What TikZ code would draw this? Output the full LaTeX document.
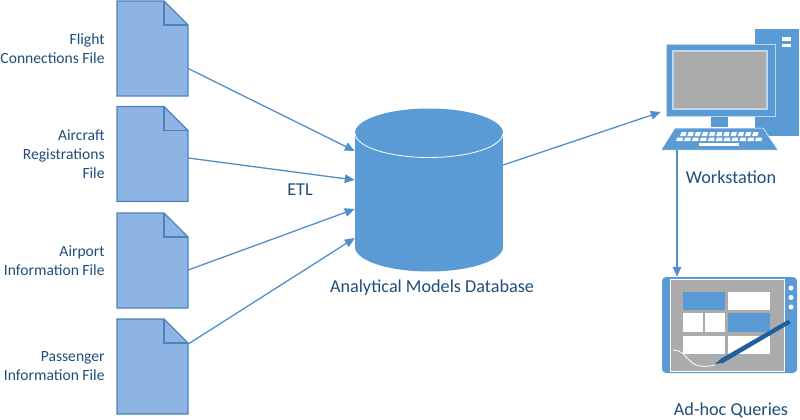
\documentclass[tikz,border=0pt]{standalone}
\usepackage{fontspec}
\usepackage{xcolor}
\usepackage{tikz}
\setmainfont{Carlito}
\usetikzlibrary{arrows.meta, positioning}

\tikzset{
  filebox/.style={minimum width=71pt, minimum height=95pt, inner sep=0pt},
  holder/.style={inner sep=0pt},
  rotulo/.style={text=tinta, font=\fontsize{15.6}{19}\selectfont, align=right, inner sep=0pt},
  titulo/.style={text=tinta, font=\fontsize{18.2}{19}\selectfont, inner sep=0pt},
  seta/.style={draw=linha, line width=1.3pt, -{Triangle[length=10pt, width=8.5pt]}},
  filepage/.pic={
    \draw[fill=folha, draw=borda, line width=1.3pt] (-35.5,-47.5) -- (11.5,-47.5) -- (35.5,-23.5) -- (35.5,47.5) -- (-35.5,47.5) -- cycle;
    \draw[draw=borda, line width=1.3pt] (11.5,-47.5) -- (11.5,-23.5) -- (35.5,-23.5);
  }
}

\begin{document}
\begin{tikzpicture}[x=1pt, y=-1pt]
% --- CORES HEX E COORDENADAS EM PIXELS ---
\definecolor{tinta}{HTML}{1F4E79}
\definecolor{linha}{HTML}{4F8FCB}
\definecolor{folha}{HTML}{8DB4E2}
\definecolor{borda}{HTML}{4A83BD}
\definecolor{azul}{HTML}{5B9BD5}
\definecolor{claro}{HTML}{BDD7EE}
\definecolor{cinza}{HTML}{ABABAB}
\definecolor{caneta}{HTML}{1F5F9E}
\useasboundingbox (0,0) rectangle (800,420);

% LAYER 1: Arquivos
\node (flight) at (152.5,48.5) [filebox] {};
\node (aircraft) at (152.5,154) [filebox] {};
\node (airport) at (152.5,260.5) [filebox] {};
\node (passenger) at (152.5,366.5) [filebox] {};
\pic at (flight.center) {filepage};
\pic at (aircraft.center) {filepage};
\pic at (airport.center) {filepage};
\pic at (passenger.center) {filepage};
\node (flightlabel) [rotulo, left=12pt of flight] {Flight\\Connections File};
\node (aircraftlabel) [rotulo, left=12pt of aircraft] {Aircraft\\Registrations\\File};
\node (airportlabel) [rotulo, left=12pt of airport] {Airport\\Information File};
\node (passengerlabel) [rotulo, left=12pt of passenger] {Passenger\\Information File};

% LAYER 2: Banco de dados
\node (database) at (429,189.5) [holder, minimum width=148pt, minimum height=163pt] {};
\fill[azul] (355,133) rectangle (503,247);
\fill[azul] (429,133) ellipse [x radius=74, y radius=24.5];
\fill[azul] (429,247) ellipse [x radius=74, y radius=24.5];
\draw[white, line width=0.8pt] (355,133) arc [start angle=180, end angle=0, x radius=74, y radius=24.5];
\node (databaselabel) at (432,288) [titulo] {Analytical Models Database};
\node (etl) at (300,190) [titulo] {ETL};

% LAYER 3: Workstation
\node (workstation) at (720,89.5) [holder, minimum width=118pt, minimum height=121pt] {};
\fill[azul] (755,29) rectangle (799,136);
\fill[white] (782,37) rectangle (791,41);
\fill[white] (782,44) rectangle (791,47);
\draw[fill=azul, draw=claro, line width=0.8pt] (666,44) rectangle (775,116);
\draw[fill=cinza, draw=claro, line width=1.2pt] (673,51) rectangle (767,109);
\fill[azul] (711,116.5) rectangle (728,127);
\draw[fill=azul, draw=white, line width=0.5pt] (675,128) -- (763,128) -- (778,150) -- (661,150) -- cycle;
\foreach \k in {0,...,10} {
  \fill[white] ({681.5+\k*7.2},132) -- ({686.5+\k*7.2},132) -- ({685.5+\k*7.2},136) -- ({680+\k*7.2},136) -- cycle;
  \fill[white] ({677.5+\k*7.9},137.5) -- ({683+\k*7.9},137.5) -- ({682.5+\k*7.9},141) -- ({676+\k*7.9},141) -- cycle;
}
\fill[white] (699,143) rectangle (739,146);
\node (workstationlabel) at (731,177) [titulo] {Workstation};

% LAYER 4: Tablet
\node (tablet) at (729.5,325) [holder, minimum width=135pt, minimum height=96pt] {};
\fill[azul, rounded corners=4pt] (662,277) rectangle (797,373);
\draw[fill=cinza, draw=white, line width=1pt] (670,279) rectangle (784,371);
\fill[azul] (683,292) rectangle (725,310);
\fill[white] (728,292) rectangle (770,310);
\fill[white] (683,313) rectangle (703,332);
\fill[white] (705,313) rectangle (725,332);
\fill[azul] (728,313) rectangle (770,332);
\fill[white] (683,336) rectangle (725,354);
\fill[white] (728,336) rectangle (770,354);
\foreach \y in {288,297.5,307} {
  \fill[white] (791,\y) circle [radius=2.5];
}
\draw[white, line width=0.8pt] (673,350) .. controls (690,350) and (685,372) .. (715,365);
\fill[caneta] (715,364) -- (722,358) -- (788,320) -- (791,323) -- (723,363) -- cycle;
\node (tabletlabel) at (731,410.5) [titulo] {Ad-hoc Queries};

% LAYER 5: Setas
\draw[seta] ([yshift=-20pt]flight.east) -- ([yshift=38.5pt]database.west);
\draw[seta] ([yshift=-4pt]aircraft.east) -- ([yshift=9.5pt]database.west);
\draw[seta] ([yshift=-9.5pt]airport.east) -- ([yshift=-19.5pt]database.west);
\draw[seta] ([yshift=22.5pt]passenger.east) -- ([yshift=-48.5pt]database.west);
\draw[seta] ([yshift=24.5pt]database.east) -- ([yshift=-22.5pt]workstation.west);
\draw[seta] ([xshift=-43pt]workstation.south) -- ([xshift=-52.5pt]tablet.north);
\end{tikzpicture}
\end{document}
